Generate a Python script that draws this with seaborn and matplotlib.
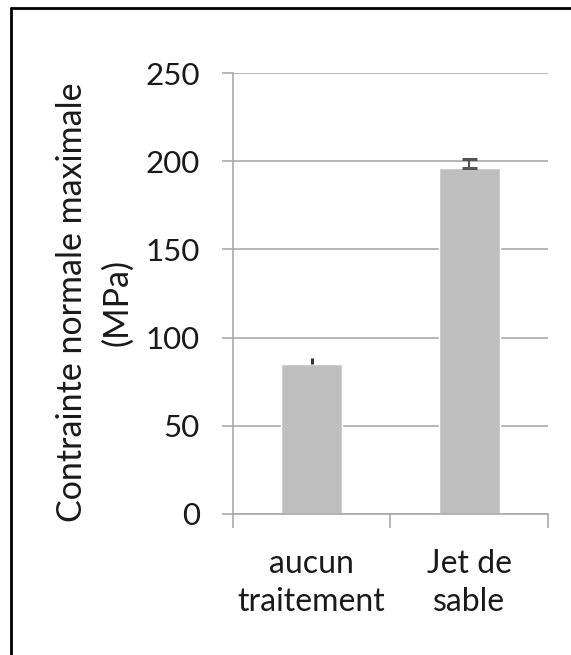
import matplotlib
matplotlib.use("Agg")
import matplotlib.pyplot as plt
from matplotlib.lines import Line2D
import seaborn as sns
import pandas as pd

# Data
categories = ["aucun\ntraitement", "Jet de\nsable"]
stress_mpa = [85, 196]
stress_err_up = [3.5, 5.5]
y_ticks = [0, 50, 100, 150, 200, 250]
y_label = "Contrainte normale maximale\n(MPa)"

sns.set_theme(style="white")
plt.rcParams["font.family"] = ["Lato", "DejaVu Sans"]

df = pd.DataFrame({"traitement": categories, "contrainte": stress_mpa})

fig = plt.figure(figsize=(5.71, 6.55), dpi=100)
ax = fig.add_axes([0.408, 0.2153, 0.5517, 0.6732])

grid_col = "#a9a9a9"
ax.set_axisbelow(True)
ax.yaxis.grid(True, color=grid_col, linewidth=1.2)

sns.barplot(data=df, x="traitement", y="contrainte", color="#bfbfbf",
            width=0.39, errorbar=None, saturation=1, ax=ax)

# One-sided (plus) error bars
ax.errorbar([0], [stress_mpa[0]], yerr=[[0], [stress_err_up[0]]], fmt="none",
            ecolor="#333333", elinewidth=2.2, capsize=0, zorder=5)
ax.errorbar([1], [stress_mpa[1]], yerr=[[0], [stress_err_up[1]]], fmt="none",
            ecolor="#555555", elinewidth=1.5, capsize=5.4, capthick=2.2, zorder=5)

ax.set_xlim(-0.5, 1.5)
ax.set_ylim(0, 250)
ax.set_yticks(y_ticks)
ax.set_xlabel("")
ax.set_ylabel("")

for side in ["top", "right"]:
    ax.spines[side].set_visible(False)
for side in ["left", "bottom"]:
    ax.spines[side].set_color(grid_col)
    ax.spines[side].set_linewidth(1.2)

ax.tick_params(axis="y", which="major", left=True, length=8, width=1.2,
               color=grid_col, pad=16, labelsize=22.5, labelcolor="#1a1a1a")
ax.tick_params(axis="x", which="major", length=0, pad=25, labelsize=23,
               labelcolor="#1a1a1a")
ax.set_xticks([-0.5, 0.5, 1.5], minor=True)
ax.tick_params(axis="x", which="minor", bottom=True, length=10, width=1.2,
               color=grid_col)
for lbl in ax.get_xticklabels():
    lbl.set_linespacing(1.35)

fig.text(95 / 571, 1 - 302 / 655, y_label, rotation=90, ha="center",
         va="center", fontsize=24.5, color="#1a1a1a", linespacing=1.5)

# Outer frame edges
fig.add_artist(Line2D([11 / 571, 11 / 571], [0, 1 - 8 / 655],
                      transform=fig.transFigure, color="black", linewidth=2))
fig.add_artist(Line2D([11 / 571, 1], [1 - 8 / 655, 1 - 8 / 655],
                      transform=fig.transFigure, color="black", linewidth=2))

fig.savefig("out.png", dpi=100, facecolor="white")
